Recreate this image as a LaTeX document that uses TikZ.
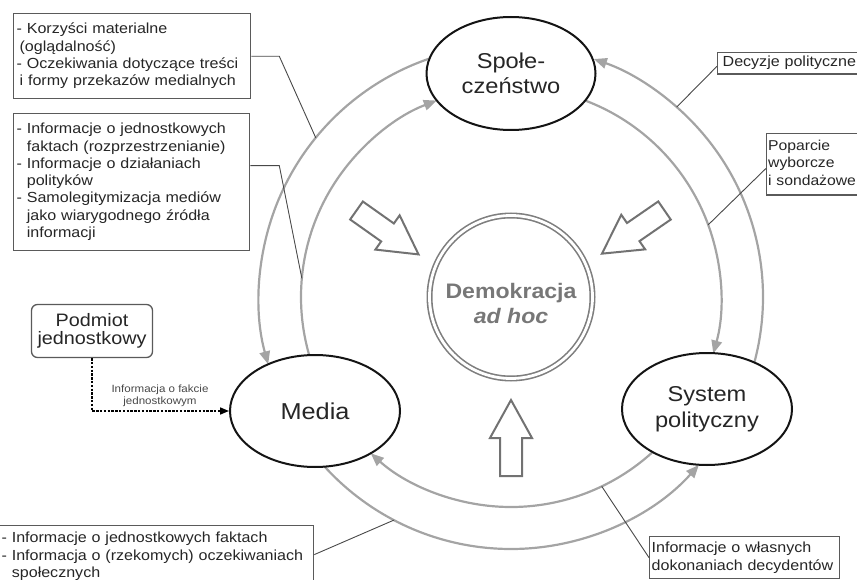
\documentclass[tikz,border=0pt]{standalone}
\usepackage{fontspec}
\setmainfont{Liberation Sans}[FakeStretch=1.1]
\usetikzlibrary{shapes.geometric,arrows.meta,calc}

\definecolor{arcgray}{HTML}{A4A4A4}
\definecolor{boxline}{HTML}{5A5A5A}
\definecolor{txt}{HTML}{262626}
\definecolor{demo}{HTML}{777777}
\definecolor{ringgray}{HTML}{7E7E7E}
\definecolor{bigarrow}{HTML}{727272}
\definecolor{leader}{HTML}{484848}

\begin{document}
\begin{tikzpicture}[x=1pt,y=-1pt,
  actor/.style={ellipse, draw=black!92, line width=2pt, fill=white,
    minimum width=170pt, minimum height=112pt, inner sep=0pt,
    align=center, text=txt, font=\fontsize{21.5}{25}\selectfont},
  infobox/.style={draw=boxline, line width=1.3pt, fill=white, anchor=north west,
    inner xsep=3pt, inner ysep=8pt, align=left, text=txt,
    font=\fontsize{14.6}{17.3}\selectfont},
  flow/.style={draw=arcgray, line width=2.2pt, -{Triangle[length=13pt,width=10.5pt]}},
  leaderline/.style={draw=leader, line width=0.9pt},
  hollowarrow/.style={draw=bigarrow, line width=2pt, fill=white, line join=miter},
  dotline/.style={draw=black, line width=1.6pt, dash pattern=on 2.4pt off 1.4pt,
    -{Triangle[length=9pt,width=7pt]}},
  demotext/.style={align=center, text=demo, font={\fontsize{21}{25}\selectfont\bfseries}},
]
\useasboundingbox (0,0) rectangle (857,580);
\clip (0,0) rectangle (857,580);

\coordinate (C) at (511,297);

% circulation between the three actors: outer ring r=252, inner ring r=210
\draw[flow] ($(C)+(260:252)$) arc[start angle=-260, end angle=-164.5, radius=252pt];
\draw[flow] ($(C)+(155:210)$) arc[start angle=-155, end angle=-249.3, radius=210pt];
\draw[flow] ($(C)+(20:252)$) arc[start angle=-20, end angle=70.8, radius=252pt];
\draw[flow] ($(C)+(-80:210)$) arc[start angle=80, end angle=-15.6, radius=210pt];
\draw[flow] ($(C)+(145:252)$) arc[start angle=-145, end angle=-41.8, radius=252pt];
\draw[flow] ($(C)+(35:210)$) arc[start angle=-35, end angle=-131.9, radius=210pt];

% actors
\node[actor, minimum width=169pt, minimum height=113pt] (spol) at (511,73.5) {Społe-\\czeństwo};
\node[actor, font=\fontsize{23}{27}\selectfont] (media) at (315,411) {Media};
\node[actor, font=\fontsize{21.5}{26}\selectfont] (system) at (707,409) {System\\polityczny};

% centre
\node[circle, draw=ringgray, line width=1.6pt, double=white, double distance=2.8pt,
  minimum size=163pt, inner sep=0pt] (demokracja) at (C) {};
\node[demotext] (demotekst) at (511,303) {Demokracja\\\textit{ad hoc}};

% hollow arrows pointing to the centre
\draw[hollowarrow, shift={(356.5,210.5)}, rotate=-35.3]
  (0,-11) -- (38,-11) -- (38,-21) -- (76,0) -- (38,21) -- (38,11) -- (0,11) -- cycle;
\draw[hollowarrow, shift={(664.5,210.5)}, rotate=-145.4]
  (0,-11) -- (38,-11) -- (38,-21) -- (76,0) -- (38,21) -- (38,11) -- (0,11) -- cycle;
\draw[hollowarrow, shift={(511,476)}, rotate=90]
  (0,-11) -- (38,-11) -- (38,-21) -- (76,0) -- (38,21) -- (38,11) -- (0,11) -- cycle;

% description boxes
\node[infobox, text width=231pt] (korzysci) at (13,13)
  {\strut- Korzyści materialne\\\hspace*{3pt}(oglądalność)\\- Oczekiwania dotyczące treści\\\hspace*{3pt}i formy przekazów medialnych\strut};
\node[infobox, text width=230pt] (informacje) at (13,113)
  {\strut- Informacje o jednostkowych\\\phantom{-~}faktach (rozprzestrzenianie)\\- Informacje o działaniach\\\phantom{-~}polityków\\- Samolegitymizacja mediów\\\phantom{-~}jako wiarygodnego źródła\\\phantom{-~}informacji\strut};
\node[infobox, inner xsep=5pt, inner ysep=5pt, text width=307pt] (odbiorcy) at (-4,525)
  {\strut- Informacje o jednostkowych faktach\\- Informacja o (rzekomych) oczekiwaniach\\\phantom{-~}społecznych\strut};
\node[infobox, inner xsep=2pt, inner ysep=3pt, text width=186pt,
  font=\fontsize{14.6}{18}\selectfont] (dokonania) at (649,536)
  {\strut Informacje o własnych\\dokonaniach decydentów\strut};
\node[infobox, inner xsep=5pt, inner ysep=2pt, text width=150pt] (decyzje) at (717,52)
  {\strut Decyzje polityczne};
\node[infobox, inner xsep=1.5pt, inner ysep=4.5pt, text width=150pt,
  font=\fontsize{14.3}{17.5}\selectfont] (poparcie) at (766,133)
  {\strut Poparcie\\wyborcze\\i sondażowe\strut};

% leader lines from the boxes to the flows
\coordinate (a1) at ($(C)+(219.2:252)$);
\coordinate (b1) at ($(C)+(185.1:210)$);
\coordinate (c1) at ($(C)+(-48.9:252)$);
\coordinate (d1) at ($(C)+(-20.1:210)$);
\coordinate (e1) at ($(C)+(64.4:210)$);
\coordinate (f1) at ($(C)+(117.7:252)$);
\draw[leaderline] (korzysci.east) -- ++(28,0) -- (a1);
\draw[leaderline] ([yshift=16.5pt]informacje.east) -- ++(29,0) -- (b1);
\draw[leaderline] ([yshift=-3pt]decyzje.west) -- (c1);
\draw[leaderline] ([yshift=-4pt]poparcie.west) -- (d1);
\draw[leaderline] (dokonania.west) -- (e1);
\draw[leaderline] ([yshift=2pt]odbiorcy.east) -- (f1);

% individual source
\node[draw=boxline, line width=1.3pt, rounded corners=6pt, fill=white,
  minimum width=121pt, minimum height=53pt, align=center, text=txt,
  font=\fontsize{18}{18.5}\selectfont] (podmiot) at (92,331) {Podmiot\\jednostkowy};
\draw[dotline] (podmiot.south) |- (media.west);
\node[align=center, text=leader, font=\fontsize{10.5}{11.5}\selectfont] (fakt) at (160,396)
  {Informacja o fakcie\\jednostkowym};

\end{tikzpicture}
\end{document}
